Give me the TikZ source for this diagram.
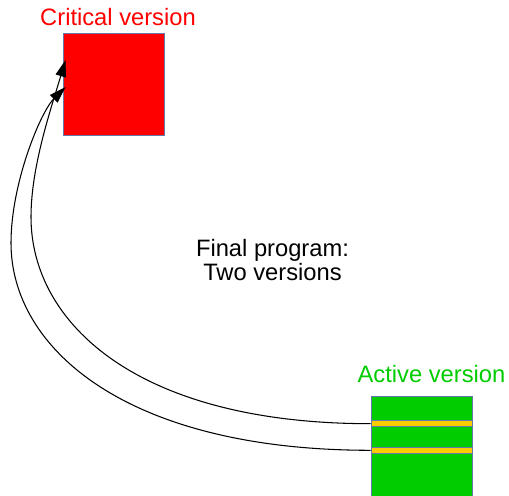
\documentclass[tikz,border=0pt]{standalone}
\usepackage{fontspec}
\setmainfont{Liberation Sans}
\usetikzlibrary{arrows.meta}
\definecolor{critred}{RGB}{255,0,0}
\definecolor{actgreen}{RGB}{0,204,0}
\definecolor{slotyellow}{RGB}{255,204,0}
\definecolor{edgeblue}{RGB}{100,120,170}
\begin{document}
\begin{tikzpicture}[x=0.2mm, y=0.2mm, >={Triangle[length=9.5pt, width=6pt]}]
    \useasboundingbox (0, 0) rectangle (509, 496);

    \tikzstyle{box} = [draw = edgeblue, line width = 0.5pt, inner sep = 0pt, minimum width = 20.2mm]
    \tikzstyle{slot} = [box, fill = slotyellow, minimum height = 1.2mm]
    \tikzstyle{lbl} = [inner sep = 0pt, font = \fontsize{13.5}{13.2}\selectfont]
    \tikzstyle{link} = [->, line width = 0.6pt]

    \node[box, fill = critred, minimum height = 20.4mm] (crit) at (113.5, 412) {};
    \node[lbl, critred, anchor = base] (critlbl) at (118, 470) {Critical version};

    \node[box, fill = actgreen, minimum height = 22mm] (act) at (421.5, 45) {};
    \node[lbl, actgreen, anchor = base] (actlbl) at (431.5, 113) {Active version};
    \node[slot] (s1) at (421.5, 72.3) {};
    \node[slot] (s2) at (421.5, 45.7) {};

    \node[lbl, align = center] (final) at (272.5, 236) {Final program:\\Two versions};

    \coordinate (b1) at (31, 279);
    \coordinate (b2) at (11, 253);
    \coordinate (t1) at ([shift = {(3, 24)}]crit.west);
    \coordinate (t2) at ([shift = {(3, -3)}]crit.west);

    \draw[link] (s1.west) .. controls +(-235, 0) and +(0, -105) .. (b1)
        .. controls +(0, 50) and +(-15, -50) .. (t1);
    \draw[link] (s2.west) .. controls +(-245, 0) and +(0, -105) .. (b2)
        .. controls +(0, 60) and +(-25, -25) .. (t2);
\end{tikzpicture}
\end{document}
